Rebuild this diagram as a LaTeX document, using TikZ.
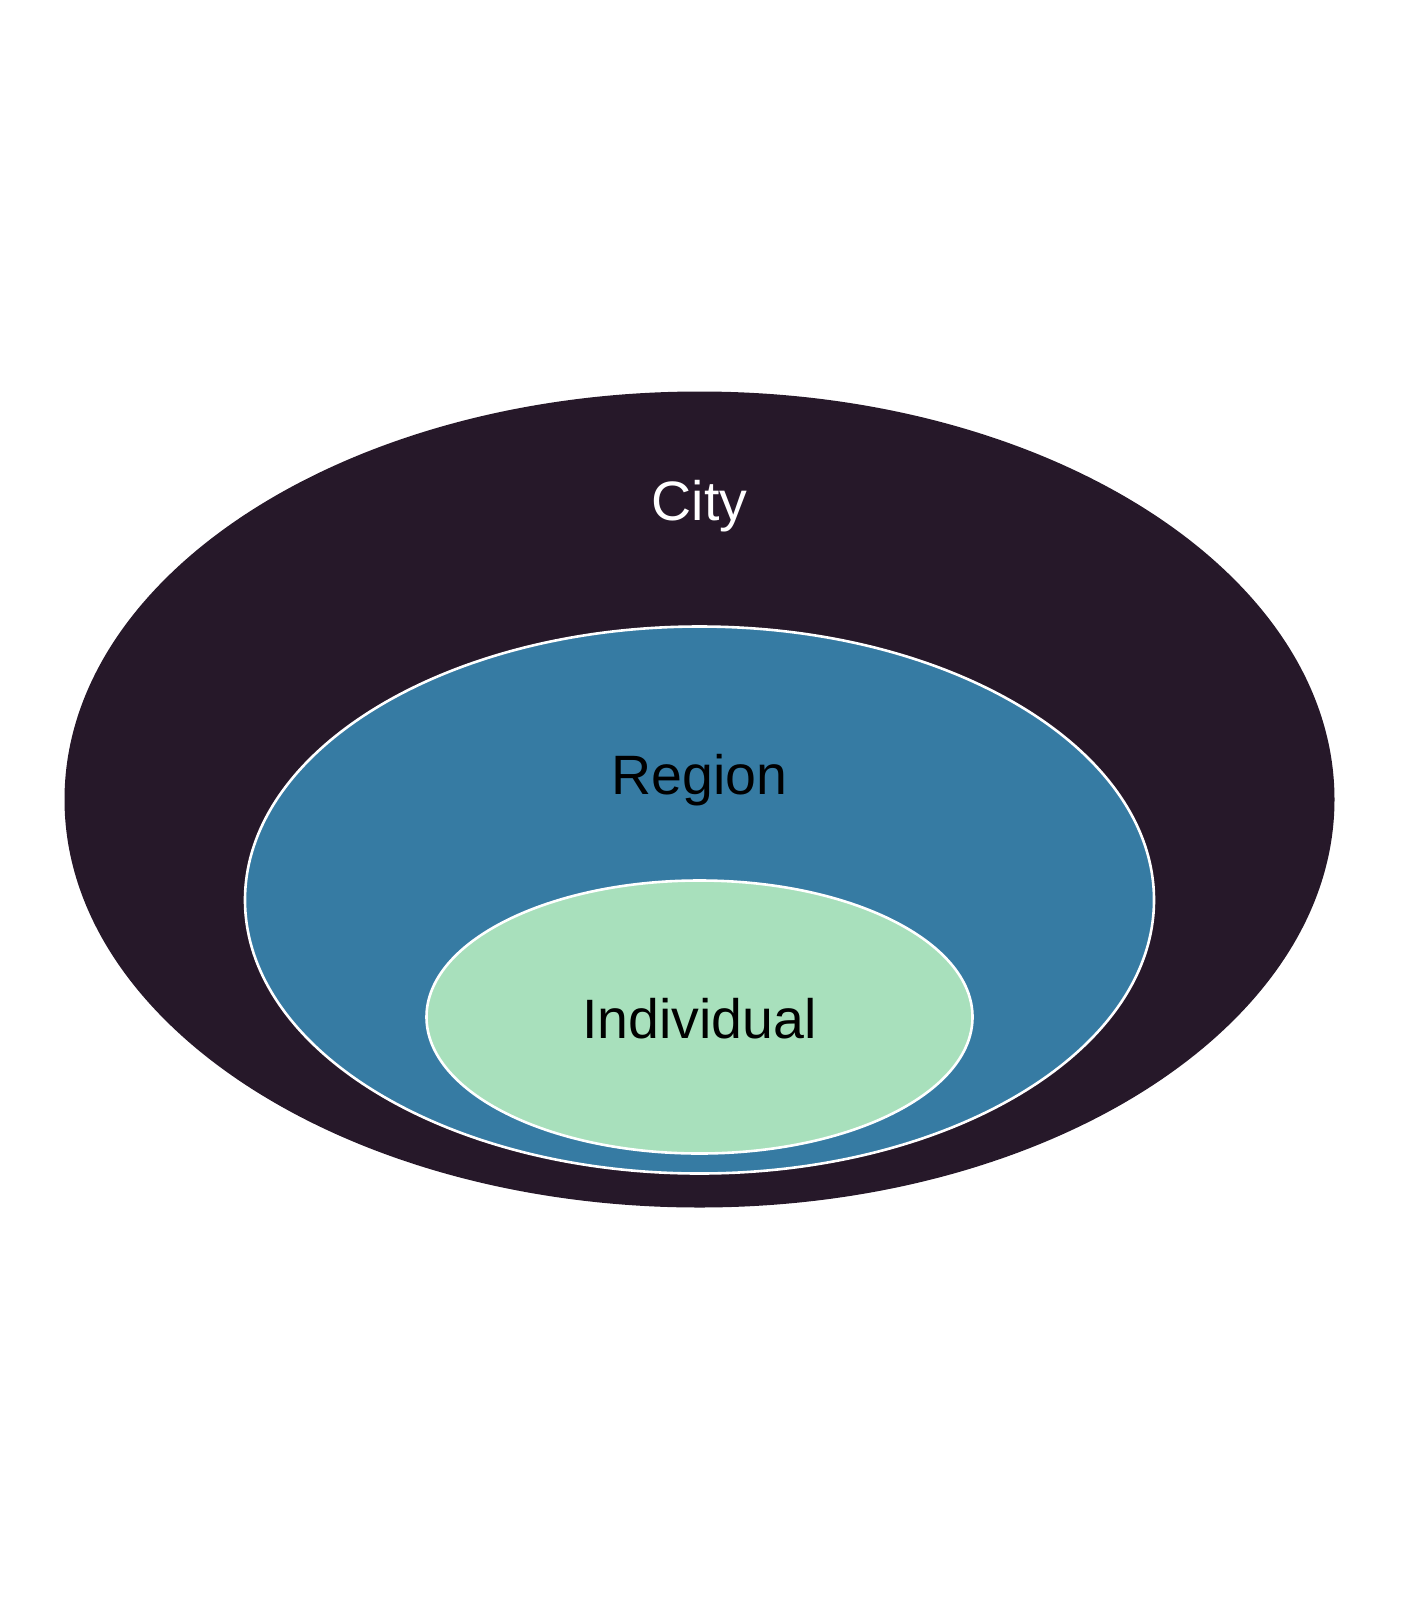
\documentclass[tikz,border=0pt]{standalone}
\usepackage{fontspec}
\setmainfont{Liberation Sans}
\usepackage{tikz}
\usetikzlibrary{shapes.geometric}

\definecolor{citycol}{HTML}{261829}
\definecolor{regioncol}{HTML}{367BA3}
\definecolor{indivcol}{HTML}{A8E0BC}

\begin{document}
\begin{tikzpicture}[
  x=1pt, y=-1pt,
  zone/.style={ellipse, draw=white, line width=2.6pt, inner sep=0pt},
  lbl/.style={anchor=base, font=\fontsize{55.5}{60}\selectfont}
]
  \useasboundingbox (0,0) rectangle (1400,1600);
  \node[zone, fill=citycol, draw=none, minimum width=1270pt, minimum height=816pt] (city) at (699.5,799.5) {};
  \node[zone, fill=regioncol, minimum width=909pt, minimum height=547pt] (region) at (699.5,900) {};
  \node[zone, fill=indivcol, minimum width=546pt, minimum height=273pt] (indiv) at (699.5,1017) {};
  \node[lbl, text=white] (citylbl) at (699.5,520) {City};
  \node[lbl] (regionlbl) at (699.5,794) {Region};
  \node[lbl] (indivlbl) at (699.5,1038) {Individual};
\end{tikzpicture}
\end{document}
